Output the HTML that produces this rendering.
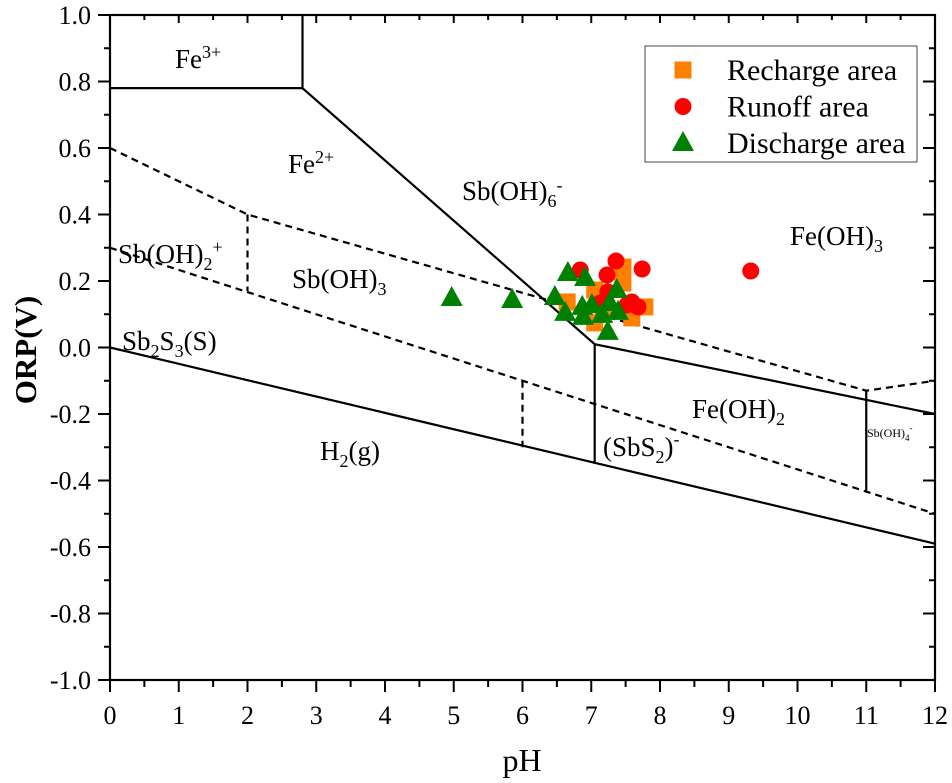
<!DOCTYPE html>
<html><head><meta charset="utf-8"><style>
body{margin:0;background:#fff}
svg, svg text{font-family:"Liberation Serif","DejaVu Serif",serif}
</style></head><body>
<svg id="c" width="952" height="778"></svg>
<script>
const xTicks=[0,1,2,3,4,5,6,7,8,9,10,11,12];
const yTicks=[-1.0,-0.8,-0.6,-0.4,-0.2,0.0,0.2,0.4,0.6,0.8,1.0];
const rechargePH=[7.46,7.46,7.05,6.65,7.78,7.05,7.59,7.17];
const rechargeORP=[0.242,0.194,0.173,0.137,0.122,0.074,0.089,0.122];
const runoffPH=[6.84,7.36,7.74,9.32,7.23,7.24,7.13,7.52,7.68,7.59];
const runoffORP=[0.233,0.26,0.236,0.23,0.218,0.167,0.134,0.128,0.122,0.137];
const dischargePH=[6.66,6.91,6.47,7.37,6.62,6.87,7.01,6.88,7.27,7.39,7.24,7.16,4.97,5.85];
const dischargeORP=[0.224,0.209,0.152,0.173,0.104,0.122,0.128,0.092,0.134,0.107,0.047,0.098,0.149,0.143];
const solidLines=[[[0,0.78],[2.8,0.78]],[[2.8,0.78],[2.8,1.0]],[[2.8,0.78],[7.05,0.01],[12,-0.2]],[[7.05,0.01],[7.05,-0.35]],[[0,0],[12,-0.59]],[[11,-0.13],[11,-0.43]]];
const dashedLines=[[[0,0.6],[2,0.4],[11,-0.13],[12,-0.1]],[[2,0.4],[2,0.17]],[[0,0.3],[12,-0.5]],[[6,-0.1],[6,-0.3]]];

const X0=110,X1=935,Y0=15,Y1=680;
const FF='Liberation Serif, serif';
const sx=v=>X0+(v-0)/12*(X1-X0);
const sy=v=>Y1-(v+1)/2*(Y1-Y0);
const svg=document.getElementById('c');
const NS='http://www.w3.org/2000/svg';
function mk(t,a,p){const e=document.createElementNS(NS,t);for(const k in a)e.setAttribute(k,a[k]);if(t==='text')e.setAttribute('font-family',FF);(p||svg).appendChild(e);return e;}

let fr=mk('rect',{x:X0,y:Y0,width:X1-X0,height:Y1-Y0,fill:'none',stroke:'#000','stroke-width':2.2});



const tk={stroke:'#000','stroke-width':2};
xTicks.forEach((t,i)=>{
  const x=sx(t);
  mk('line',{x1:x,y1:Y1,x2:x,y2:Y1+12,...tk});
  mk('line',{x1:x,y1:Y0,x2:x,y2:Y0+8,...tk});
  if(i<xTicks.length-1){const xm=sx(t+0.5);mk('line',{x1:xm,y1:Y1,x2:xm,y2:Y1+7,...tk});mk('line',{x1:xm,y1:Y0,x2:xm,y2:Y0+5,...tk});}
  const tx=mk('text',{x:x,y:Y1+44,'font-size':26,'text-anchor':'middle'});tx.textContent=t;
  
  
});
yTicks.forEach((t,i)=>{
  const y=sy(t);
  mk('line',{x1:X0,y1:y,x2:X0-12,y2:y,...tk});
  mk('line',{x1:X1,y1:y,x2:X1-12,y2:y,...tk});
  if(i<yTicks.length-1){const ym=sy(t+0.1);mk('line',{x1:X0,y1:ym,x2:X0-6,y2:ym,...tk});mk('line',{x1:X1,y1:ym,x2:X1-6,y2:ym,...tk});}
  const tx=mk('text',{x:X0-19,y:y+9,'font-size':26,'text-anchor':'end'});tx.textContent=t.toFixed(1);
  
  
});
let xt=mk('text',{x:522,y:771,'font-size':32,'text-anchor':'middle'});xt.textContent='pH';


let yt=mk('text',{x:0,y:0,'font-size':31,'text-anchor':'middle','font-weight':'bold',transform:'translate(36,350) rotate(-90)'});yt.textContent='ORP(V)';



const pts=l=>l.map(p=>sx(p[0])+','+sy(p[1])).join(' ');
solidLines.forEach(l=>{const e=mk('polyline',{points:pts(l),fill:'none',stroke:'#000','stroke-width':2.2});
  
  });
dashedLines.forEach(l=>{const e=mk('polyline',{points:pts(l),fill:'none',stroke:'#000','stroke-width':2.2,'stroke-dasharray':'7,5'});
  
  });

function label(x,y,html,fs){const t=mk('text',{x:x,y:y,'font-size':fs||27});t.innerHTML=html;
  
  }
const sup='<tspan dy="-10" font-size="18">',sub='<tspan dy="7" font-size="18">';
label(175,68,'Fe'+sup+'3+</tspan>');
label(288,173,'Fe'+sup+'2+</tspan>');
label(462,200,'Sb(OH)'+sub+'6</tspan><tspan dy="-16" font-size="18">-</tspan>');
label(790,245,'Fe(OH)'+sub+'3</tspan>');
label(118,263,'Sb(OH)'+sub+'2</tspan><tspan dy="-17" font-size="18">+</tspan>');
label(292,288,'Sb(OH)'+sub+'3</tspan>');
label(122,350,'Sb'+sub+'2</tspan><tspan dy="-7">S</tspan>'+sub+'3</tspan><tspan dy="-7">(S)</tspan>');
label(692,418,'Fe(OH)'+sub+'2</tspan>');
label(320,460,'H'+sub+'2</tspan><tspan dy="-7">(g)</tspan>');
label(603,456,'(SbS'+sub+'2</tspan><tspan dy="-7">)</tspan><tspan dy="-11" font-size="18">-</tspan>');
label(867,437,'Sb(OH)<tspan dy="4" font-size="9">4</tspan><tspan dy="-10" font-size="9">-</tspan>',12);

const g=mk('g',{});


function sq(x,y,p){return mk('rect',{x:x-8.5,y:y-8.5,width:17,height:17,fill:'#ff7f00'},p);}
function ci(x,y,p){return mk('circle',{cx:x,cy:y,r:8.5,fill:'#ff0000'},p);}
function tr(x,y,p){return mk('polygon',{points:`${x},${y-12} ${x-11},${y+8} ${x+11},${y+8}`,fill:'#008000'},p);}
rechargePH.forEach((v,i)=>{const e=sq(sx(v),sy(rechargeORP[i]),g);
  
  });
runoffPH.forEach((v,i)=>{const e=ci(sx(v),sy(runoffORP[i]),g);
  
  });
dischargePH.forEach((v,i)=>{const e=tr(sx(v),sy(dischargeORP[i]),g);
  
  });

const lg=mk('g',{});


mk('rect',{x:645,y:46,width:272,height:116,fill:'#fff',stroke:'#444','stroke-width':1},lg);
const names=['Recharge area','Runoff area','Discharge area'];
const fns=[sq,ci,tr];
names.forEach((n,i)=>{const y=70+i*36.5;
  const it=mk('g',{},lg);
  
  
  fns[i](683,y,it);
  const t=mk('text',{x:727,y:y+10,'font-size':30},it);t.textContent=n;});
</script>
</body></html>
